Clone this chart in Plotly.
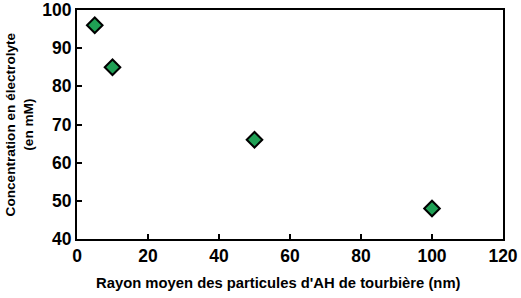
import plotly.graph_objects as go

rayon_nm = [5, 10, 50, 100]
concentration_mM = [96, 85, 66, 48]

x_ticks = [0, 20, 40, 60, 80, 100, 120]
y_ticks = [40, 50, 60, 70, 80, 90, 100]

x_title = "Rayon moyen des particules d'AH de tourbière (nm)"
y_title = "Concentration en électrolyte<br>(en mM)"

fig = go.Figure()
fig.add_trace(go.Scatter(
    x=rayon_nm, y=concentration_mM, mode="markers",
    marker=dict(symbol="diamond", size=12, color="#1fa055",
                line=dict(color="black", width=2)),
    showlegend=False,
))

font_family = "Liberation Sans"
fig.update_layout(
    width=521, height=298,
    margin=dict(l=77, r=18, t=10, b=59),
    plot_bgcolor="white", paper_bgcolor="white",
    font=dict(family=font_family, color="black"),
)
axis_common = dict(
    showgrid=False, zeroline=False, automargin=False,
    ticklabeloverflow="allow",
    showline=True, linecolor="black", linewidth=2, mirror=True,
    ticks="inside", ticklen=5, tickwidth=2, tickcolor="black",
    tickfont=dict(size=17.5, family=font_family, weight="bold", color="black"),
)
fig.update_xaxes(range=[0, 120], tickvals=x_ticks,
                 ticktext=[str(t) for t in x_ticks], **axis_common)
fig.update_yaxes(range=[40, 100], tickvals=y_ticks,
                 ticktext=[str(t) for t in y_ticks], **axis_common)

fig.add_annotation(text=f"<b>{x_title}</b>", xref="paper", yref="paper",
                   x=0.474, y=-0.19, xanchor="center", yanchor="middle",
                   showarrow=False, font=dict(size=14.8, family=font_family))
fig.add_annotation(text=f"<b>{y_title}</b>", xref="paper", yref="paper",
                   x=-0.134, y=0.5, xanchor="center", yanchor="middle",
                   textangle=-90, showarrow=False,
                   font=dict(size=13.6, family=font_family))

fig.write_html("out.html")
